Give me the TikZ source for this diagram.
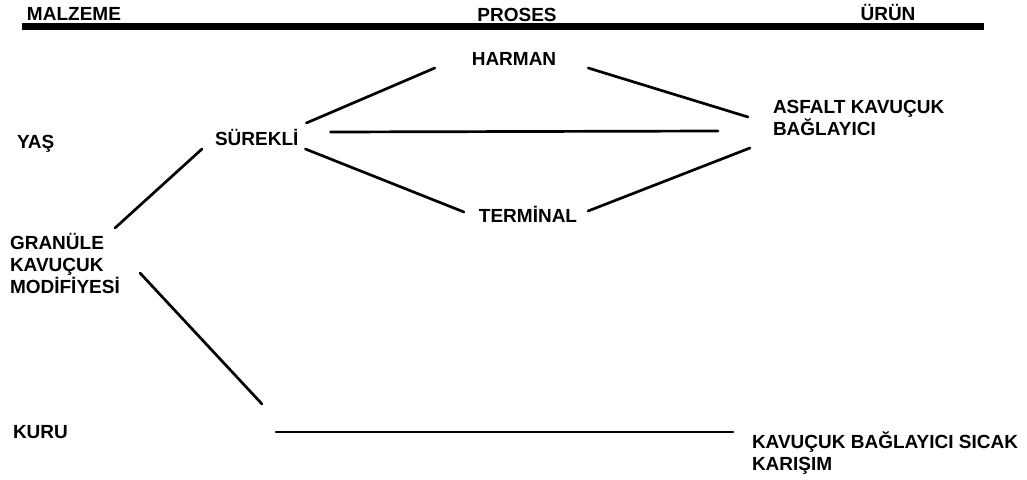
\documentclass[tikz,border=0pt]{standalone}
\usepackage{fontspec}
\setmainfont{Liberation Sans}
\tikzset{lbl/.style={inner sep=0pt, outer sep=0pt, align=left, font=\fontsize{19}{22}\selectfont\bfseries},
	baglanti/.style={line width=2.7pt, line cap=round}}
\begin{document}
\begin{tikzpicture}[x=1pt, y=-1pt, line join=round]
	\useasboundingbox (0,0) rectangle (1027,479);
	% baslik satiri
	\fill (22,23) rectangle (984,30);
	\path (27,20) node[lbl, anchor=base west](malzeme){MALZEME}
	(517,21) node[lbl, anchor=base](proses){PROSES}
	(888,20) node[lbl, anchor=base](urun){ÜRÜN};
	% malzeme sutunu (cok satirli dugumlerde base son satirda)
	\path (17,148) node[lbl, anchor=base west](yas){YAŞ}
	(10,293) node[lbl, anchor=base west](granule){GRANÜLE\\KAVUÇUK\\MODİFİYESİ}
	(13,438) node[lbl, anchor=base west](kuru){KURU};
	% proses
	\path (215,145) node[lbl, anchor=base west](surekli){SÜREKLİ}
	(514,65) node[lbl, anchor=base](harman){HARMAN}
	(528,222) node[lbl, anchor=base](terminal){TERMİNAL};
	% urunler
	\path (773,135) node[lbl, anchor=base west](asfalt){ASFALT KAVUÇUK\\BAĞLAYICI}
	(752,470) node[lbl, anchor=base west](sicak){KAVUÇUK BAĞLAYICI SICAK\\KARIŞIM};
	\coordinate (kuruuc) at (262,404);
	\coordinate (kurubas) at (276,432);
	% baglantilar
	\draw[baglanti] ([shift={(105,-65)}]granule.base west)--([shift={(-13,4)}]surekli.base west);
	\draw[baglanti] ([shift={(130,-20)}]granule.base west)--(kuruuc);
	\draw[baglanti] (kurubas)--([shift={(-19,-38)}]sicak.base west);
	\draw[baglanti] ([shift={(8,-22)}]surekli.base east)--([shift={(-37,3)}]harman.base west);
	\draw[baglanti] ([shift={(32,-13)}]surekli.base east)--([shift={(-55,-4)}]asfalt.base west);
	\draw[baglanti] ([shift={(7,4)}]surekli.base east)--([shift={(-15,-10)}]terminal.base west);
	\draw[baglanti] ([shift={(32,3)}]harman.base east)--([shift={(-25,-18)}]asfalt.base west);
	\draw[baglanti] ([shift={(11,-11)}]terminal.base east)--([shift={(-23,13)}]asfalt.base west);
\end{tikzpicture}
\end{document}
